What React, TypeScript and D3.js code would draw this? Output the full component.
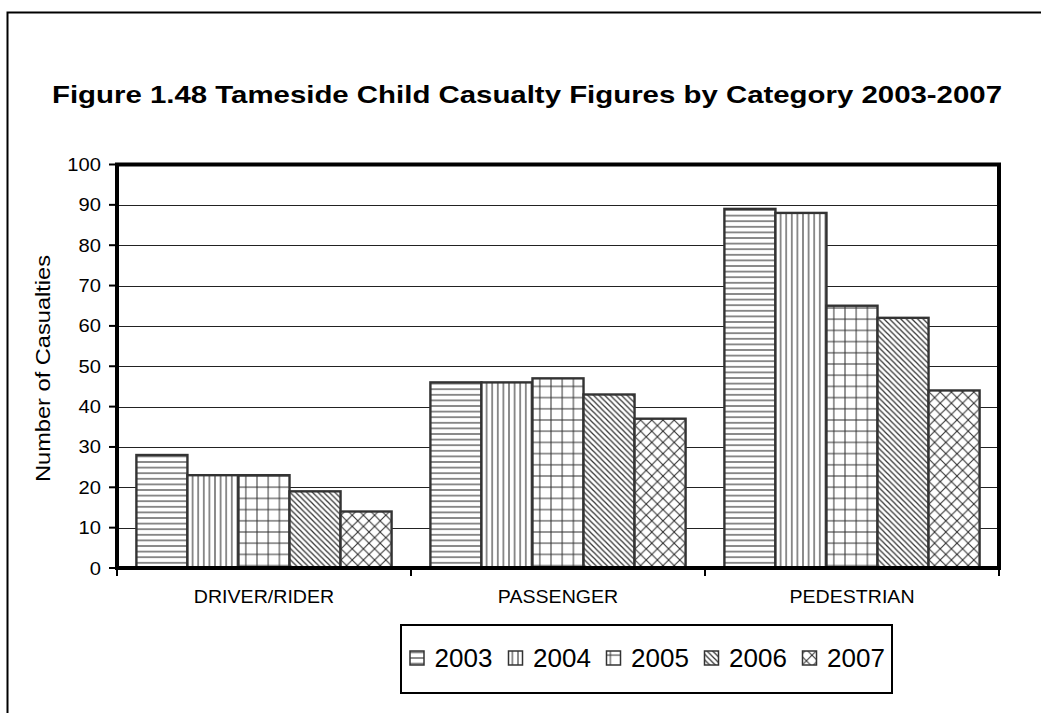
import React from "react";
import * as d3 from "d3";

const categories = ["DRIVER/RIDER", "PASSENGER", "PEDESTRIAN"];
const years = ["2003", "2004", "2005", "2006", "2007"];
const values2003 = [28, 46, 89];
const values2004 = [23, 46, 88];
const values2005 = [23, 47, 65];
const values2006 = [19, 43, 62];
const values2007 = [14, 37, 44];
const seriesValues = [values2003, values2004, values2005, values2006, values2007];
const yTicks = [0, 10, 20, 30, 40, 50, 60, 70, 80, 90, 100];

const W = 1041;
const H = 713;
const plot = { left: 117, right: 999, top: 164.5, bottom: 568 };
const STRETCH = 1.12;
const FONT = "Liberation Sans, Arial, Helvetica, sans-serif";
const INK = "#333";

function Patterns() {
  const s = 5.6;
  const g = 11.2;
  return (
    <defs>
      <pattern id="p0" width={s} height={s} patternUnits="userSpaceOnUse">
        <rect width={s} height={s} fill="#fff" />
        <line x1={0} x2={s} y1={s / 2} y2={s / 2} stroke={INK} strokeWidth={1.1} />
      </pattern>
      <pattern id="p1" width={s} height={s} patternUnits="userSpaceOnUse">
        <rect width={s} height={s} fill="#fff" />
        <line y1={0} y2={s} x1={s / 2} x2={s / 2} stroke={INK} strokeWidth={1.1} />
      </pattern>
      <pattern id="p2" width={g} height={g} patternUnits="userSpaceOnUse">
        <rect width={g} height={g} fill="#fff" />
        <line x1={0} x2={g} y1={g / 2} y2={g / 2} stroke={INK} strokeWidth={1} />
        <line y1={0} y2={g} x1={g / 2} x2={g / 2} stroke={INK} strokeWidth={1} />
      </pattern>
      <pattern id="p3" width={s} height={s} patternUnits="userSpaceOnUse">
        <rect width={s} height={s} fill="#fff" />
        <line x1={-1} y1={-1} x2={s + 1} y2={s + 1} stroke={INK} strokeWidth={1.2} />
        <line x1={-1 - s} y1={-1} x2={1} y2={s + 1} stroke={INK} strokeWidth={1.2} />
        <line x1={s - 1} y1={-1} x2={2 * s + 1} y2={s + 1} stroke={INK} strokeWidth={1.2} />
      </pattern>
      <pattern id="p4" width={g} height={g} patternUnits="userSpaceOnUse">
        <rect width={g} height={g} fill="#fff" />
        <line x1={0} y1={0} x2={g} y2={g} stroke={INK} strokeWidth={1.1} />
        <line x1={g} y1={0} x2={0} y2={g} stroke={INK} strokeWidth={1.1} />
      </pattern>
    </defs>
  );
}

export default function App() {
  const x0 = d3.scaleBand<string>().domain(categories).range([plot.left, plot.right]).paddingInner(0).paddingOuter(0);
  const gapRatio = 0.76;
  const bw = x0.bandwidth() / (years.length + gapRatio);
  const inset = (bw * gapRatio) / 2;
  const x1 = d3.scaleBand<string>().domain(years).range([inset, x0.bandwidth() - inset]).padding(0);
  const y = d3.scaleLinear().domain([0, 100]).range([plot.bottom, plot.top]);
  const boundaries = [...categories.map((c) => x0(c) as number), plot.right];

  const legendX = [410, 508.5, 606.5, 704.5, 802.5];

  return (
    <svg
      width={W}
      height={H}
      style={{ position: "absolute", left: 0, top: 0, background: "#fff", fontFamily: FONT }}
    >
      <Patterns />
      <rect x={0} y={0} width={W} height={H} fill="#fff" />
      {/* outer frame */}
      <rect x={7.5} y={12.5} width={1200} height={900} fill="none" stroke="#000" strokeWidth={2} />

      {/* title */}
      <text x={527} y={102.5} textAnchor="middle" fontSize={24} fontWeight="bold" textLength={950} lengthAdjust="spacingAndGlyphs">
        Figure 1.48 Tameside Child Casualty Figures by Category 2003-2007
      </text>

      {/* gridlines */}
      {yTicks
        .filter((t) => t > 0 && t < 100)
        .map((t) => (
          <line key={t} x1={plot.left} x2={plot.right} y1={Math.round(y(t)) + 0.5} y2={Math.round(y(t)) + 0.5} stroke="#222" strokeWidth={1} />
        ))}

      {/* bars */}
      {categories.map((c, ci) => (
        <g key={c} transform={`translate(${x0(c)},0)`}>
          {years.map((yr, si) => {
            const v = seriesValues[si][ci];
            return (
              <rect
                key={yr}
                x={x1(yr)}
                y={y(v)}
                width={x1.bandwidth()}
                height={y(0) - y(v)}
                fill={`url(#p${si})`}
                stroke={INK}
                strokeWidth={2.4}
              />
            );
          })}
        </g>
      ))}

      {/* plot border */}
      <rect x={plot.left} y={plot.top} width={plot.right - plot.left} height={plot.bottom - plot.top} fill="none" stroke="#000" strokeWidth={4} />

      {/* y ticks */}
      {yTicks.map((t) => (
        <g key={t}>
          <line x1={109} x2={plot.left} y1={y(t)} y2={y(t)} stroke="#000" strokeWidth={2} />
          <text
            transform={`translate(101,${y(t) + 6.5}) scale(${STRETCH},1)`}
            textAnchor="end"
            fontSize={18}
            fill="#000"
          >
            {t}
          </text>
        </g>
      ))}

      {/* category ticks */}
      {boundaries.map((b, i) => (
        <line key={i} x1={b} x2={b} y1={plot.bottom} y2={plot.bottom + 8} stroke="#000" strokeWidth={2} />
      ))}
      {categories.map((c) => (
        <text
          key={c}
          transform={`translate(${(x0(c) as number) + x0.bandwidth() / 2},603) scale(${STRETCH},1)`}
          textAnchor="middle"
          fontSize={17.5}
          fill="#000"
        >
          {c}
        </text>
      ))}

      {/* y title */}
      <text
        transform="translate(50,368.5) rotate(-90)"
        textAnchor="middle"
        fontSize={20.5}
        textLength={227}
        lengthAdjust="spacingAndGlyphs"
        fill="#000"
      >
        Number of Casualties
      </text>

      {/* legend */}
      <rect x={401} y={625} width={491} height={68} fill="#fff" stroke="#000" strokeWidth={2} />
      {years.map((yr, i) => (
        <g key={yr}>
          <rect x={legendX[i]} y={651} width={14} height={14} fill={`url(#p${i})`} stroke={INK} strokeWidth={1.5} />
          <text x={legendX[i] + 24.5} y={667} fontSize={26} fill="#000">
            {yr}
          </text>
        </g>
      ))}
    </svg>
  );
}
